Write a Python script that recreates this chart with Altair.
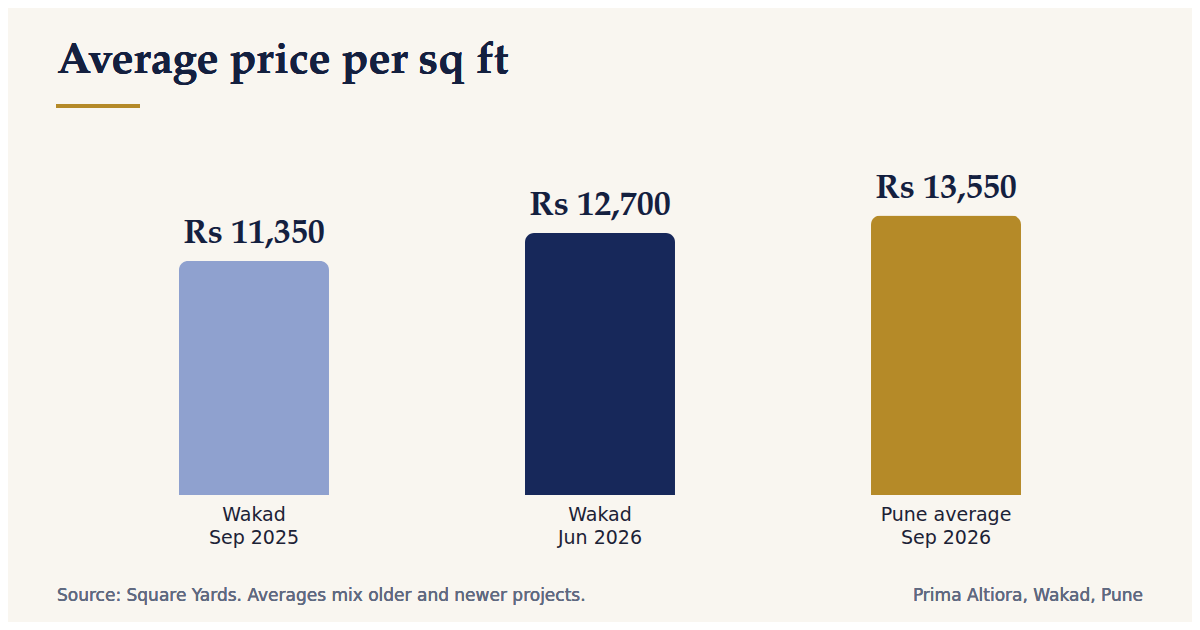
import altair as alt
import pandas as pd

# Werte
places = ["Wakad|Sep 2025", "Wakad|Jun 2026", "Pune average|Sep 2026"]
prices = [11350, 12700, 13550]
price_labels = ["Rs 11,350", "Rs 12,700", "Rs 13,550"]
bar_colors = ["#8fa1cf", "#17285a", "#b58a28"]

title_text = "Average price per sq ft"
source_text = "Source: Square Yards. Averages mix older and newer projects."
project_text = "Prima Altiora, Wakad, Pune"

serif = "Palatino Linotype, Palatino, P052, TeX Gyre Pagella, URW Palladio L, Liberation Serif, serif"
sans = "DejaVu Sans"
navy = "#14203f"
grey = "#5f6980"
bg = "#f9f6f0"

df = pd.DataFrame({"place": places, "price": prices, "label": price_labels})

x = alt.X("place:N", sort=places,
          scale=alt.Scale(paddingInner=0.5665, paddingOuter=0.28325),
          axis=alt.Axis(title=None, labelAngle=0, domain=False, ticks=False,
                        labelExpr="split(datum.value, '|')", labelFont=sans,
                        labelFontSize=19, labelColor="#1c2236", labelPadding=10,
                        labelLineHeight=23))
y = alt.Y("price:Q", scale=alt.Scale(domain=[0, 16000], nice=False), axis=None)

bars = alt.Chart(df).mark_bar(cornerRadiusTopLeft=9, cornerRadiusTopRight=9).encode(
    x=x, y=y,
    color=alt.Color("place:N", sort=places, scale=alt.Scale(domain=places, range=bar_colors), legend=None),
)

values = alt.Chart(df).mark_text(font=serif, fontSize=34, fontWeight="bold", color=navy,
                                 baseline="alphabetic", dy=-18).encode(
    x=x, y=y, text="label:N")

# Titel und goldener Strich darunter
title = alt.Chart(df).mark_text(font=serif, fontSize=44, fontWeight="bold", color=navy,
                                align="left", baseline="alphabetic", clip=False).encode(
    x=alt.value(-24), y=alt.value(-92), text=alt.value(title_text))

accent = alt.Chart(df).mark_rule(color="#b58a28", strokeWidth=4, clip=False).encode(
    x=alt.value(-25), x2=alt.value(59), y=alt.value(-59))

source = alt.Chart(df).mark_text(font=sans, fontSize=17, color=grey, align="left",
                                 baseline="alphabetic", clip=False).encode(
    x=alt.value(-24), y=alt.value(436), text=alt.value(source_text))

project = alt.Chart(df).mark_text(font=sans, fontSize=17, color=grey, align="right",
                                  baseline="alphabetic", clip=False).encode(
    x=alt.value(1062), y=alt.value(436), text=alt.value(project_text))

chart = alt.layer(bars, values, title, accent, source, project).properties(
    width=1038, height=330,
    autosize=alt.AutoSizeParams(type="none"),
    padding={"left": 73, "top": 157, "right": 73, "bottom": 127},
    background=bg,
).configure_view(stroke=None)

chart.save("out.html", embed_options={"renderer": "svg", "actions": False})
